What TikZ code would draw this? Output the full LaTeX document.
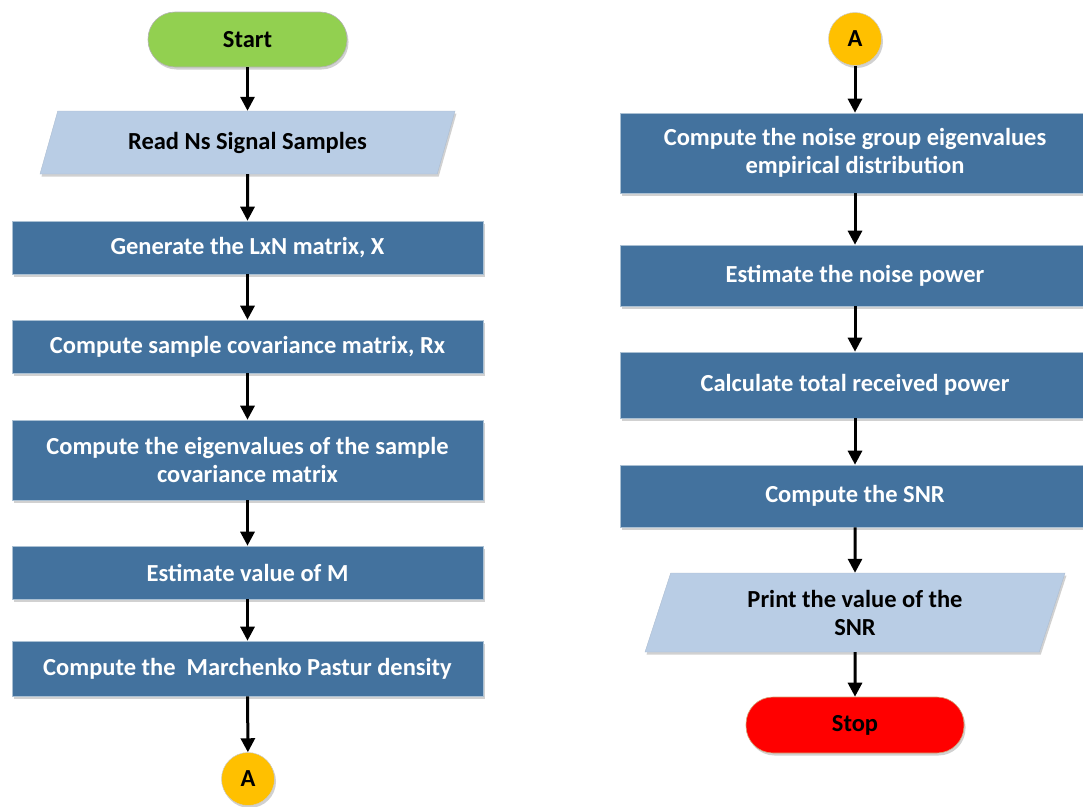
\documentclass[tikz,border=0pt]{standalone}
\usepackage{fontspec}
\setmainfont{Carlito}
\usetikzlibrary{shapes,arrows.meta,shadows}
\definecolor{procblue}{HTML}{43729E}
\definecolor{ioblue}{HTML}{B9CDE5}
\definecolor{startgreen}{HTML}{92D050}
\definecolor{connyellow}{HTML}{FFC000}
\definecolor{stopred}{HTML}{FF0000}

\begin{document}
\begin{tikzpicture}[x=1pt,y=-1pt,
        font=\fontsize{24.5}{28}\selectfont\bfseries,
        softshadow/.style={drop shadow={shadow xshift=1.5pt,shadow yshift=-2.5pt,opacity=0.18,fill=black}},
        procbox/.style={rectangle,draw=procblue!45!white,line width=0.6pt,fill=procblue,text=white,
            minimum width=471pt,minimum height=53pt,align=center,softshadow},
        iobox/.style={trapezium,trapezium stretches body,draw=ioblue!80!gray,line width=0.4pt,fill=ioblue,
            align=center,softshadow},
        termbox/.style={rectangle,rounded corners=27pt,draw=gray!60,line width=0.6pt,
            minimum width=199pt,minimum height=55pt,softshadow},
        connbox/.style={circle,fill=connyellow,draw=gray!40,line width=0.5pt,minimum size=53pt,inner sep=0pt,softshadow},
        flowarrow/.style={line width=3pt,-{Triangle[length=14pt,width=14pt]}}]
        \useasboundingbox (0,0) rectangle (1083,806);

        % left column
        \node[termbox,fill=startgreen] (start) at (247.5,39.5) {Start};
        \node[iobox,trapezium left angle=57.6,trapezium right angle=122.4,
            minimum width=415pt,minimum height=63pt] (readns) at (247.5,142.5) {Read Ns Signal Samples};
        \node[procbox] (genmat) at (247.5,247.5) {Generate the LxN matrix, X};
        \node[procbox] (covmat) at (247.5,346.5) {Compute sample covariance matrix, Rx};
        \node[procbox,minimum height=80pt] (eigvals) at (247.5,460) {Compute the eigenvalues of the sample\\covariance matrix};
        \node[procbox] (estm) at (247.5,572.5) {Estimate value of M};
        \node[procbox,minimum height=55pt] (mpdens) at (247.5,668.5) {Compute the\ \ Marchenko Pastur density};
        \node[connbox] (conna) at (248,779) {A};

        % right column
        \node[connbox] (connb) at (855,39) {A};
        \node[procbox,minimum width=470pt,minimum height=80pt] (noisedist) at (855,153) {Compute the noise group eigenvalues\\empirical distribution};
        \node[procbox,minimum width=470pt,minimum height=61pt] (noisepow) at (855,275.5) {Estimate the noise power};
        \node[procbox,minimum width=470pt,minimum height=66pt] (totpow) at (855,385) {Calculate total received power};
        \node[procbox,minimum width=470pt,minimum height=62pt] (snr) at (855,496) {Compute the SNR};
        \node[iobox,trapezium left angle=63.7,trapezium right angle=116.3,
            minimum width=420pt,minimum height=79pt] (printsnr) at (855,612.5) {Print the value of the\\SNR};
        \node[termbox,fill=stopred,minimum width=218pt,minimum height=56pt,draw=brown!70] (stop) at (855,725) {Stop};

        % connectors
        \draw[flowarrow] (start) -- (readns);
        \draw[flowarrow] (readns) -- (genmat);
        \draw[flowarrow] (genmat) -- (covmat);
        \draw[flowarrow] (covmat) -- (eigvals);
        \draw[flowarrow] (eigvals) -- (estm);
        \draw[flowarrow] (estm) -- (mpdens);
        \draw[flowarrow] (mpdens) -- (conna);
        \draw[flowarrow] (connb) -- (noisedist);
        \draw[flowarrow] (noisedist) -- (noisepow);
        \draw[flowarrow] (noisepow) -- (totpow);
        \draw[flowarrow] (totpow) -- (snr);
        \draw[flowarrow] (snr) -- (printsnr);
        \draw[flowarrow] (printsnr) -- (stop);
\end{tikzpicture}
\end{document}
